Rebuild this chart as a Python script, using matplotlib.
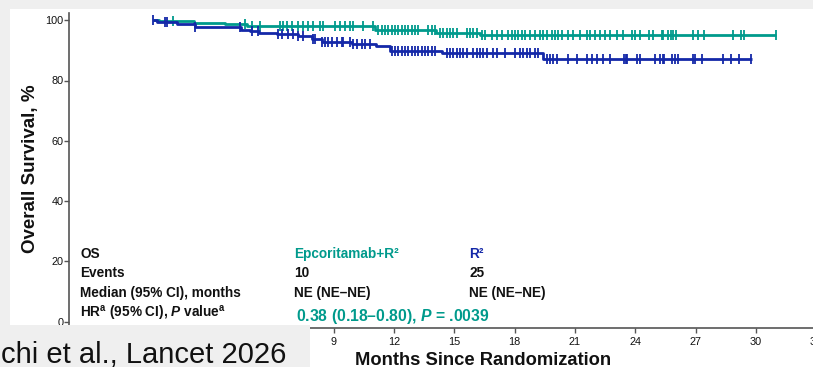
import numpy as np
import matplotlib
matplotlib.use("Agg")
import matplotlib.pyplot as plt
from matplotlib.patches import Rectangle

plt.rcParams['font.family'] = ['Liberation Sans', 'DejaVu Sans']
plt.rcParams['mathtext.fontset'] = 'custom'
plt.rcParams['mathtext.rm'] = 'Liberation Sans:bold'
plt.rcParams['mathtext.it'] = 'Liberation Sans:bold:italic'
plt.rcParams['mathtext.bf'] = 'Liberation Sans:bold'

# ---------------- data ----------------
teal_t = [0, 0.3, 2.05, 3.6, 4.7, 11.05, 14.1, 16.3, 31.0]
teal_s = [100, 99.6, 99.2, 98.7, 98.0, 96.8, 95.8, 95.1, 95.1]
teal_cens = [1.02, 4.59, 4.92, 5.34, 6.33, 6.48, 6.66, 6.91, 7.24, 7.49, 7.74, 7.99,
             8.32, 8.48, 9.06, 9.31, 9.56, 9.81, 9.98, 10.47, 10.97, 11.22, 11.39,
             11.55, 11.72, 11.89, 12.05, 12.21, 12.38, 12.55, 12.71, 12.88, 13.04,
             13.21, 13.71, 13.88, 14.04, 14.29, 14.45, 14.62, 14.79, 14.95, 15.12,
             15.62, 15.78, 15.95, 16.11, 16.36, 16.53, 16.86, 17.11, 17.36, 17.69,
             17.86, 18.02, 18.18, 18.35, 18.52, 18.77, 19.01, 19.26, 19.43, 19.6,
             19.85, 20.01, 20.18, 20.34, 20.67, 20.92, 21.25, 21.59, 21.75, 22.0,
             22.25, 22.5, 22.75, 23.08, 23.38, 23.83, 23.99, 24.24, 24.70, 24.9,
             25.32, 25.4, 25.65, 25.77, 25.9, 26.03, 26.86, 27.14, 27.42, 28.88,
             29.26, 29.43, 30.99]

blue_t = [0, 0.2, 1.2, 2.1, 4.4, 4.85, 5.3, 6.2, 7.2, 7.9, 8.4, 9.9, 11.1, 11.8,
          14.4, 19.4, 29.8]
blue_s = [100, 99.4, 98.6, 97.6, 96.9, 96.3, 95.8, 95.3, 94.8, 93.8, 92.7, 92.0,
          91.3, 89.9, 89.0, 87.1, 87.1]
blue_cens = [0.02, 0.61, 0.69, 2.1, 4.34, 4.92, 5.25, 6.24, 6.41, 6.74, 6.99, 7.24,
             7.49, 7.99, 8.07, 8.40, 8.57, 8.73, 8.90, 9.15, 9.40, 9.48, 9.81, 9.98,
             10.14, 10.39, 10.56, 10.81, 11.89, 12.05, 12.21, 12.38, 12.55, 12.71,
             12.88, 13.04, 13.21, 13.38, 13.54, 13.71, 13.88, 14.04, 14.62, 14.79,
             14.95, 15.12, 15.28, 15.45, 15.62, 15.95, 16.11, 16.28, 16.44, 16.61,
             16.94, 17.11, 17.52, 18.02, 18.27, 18.43, 18.6, 18.77, 19.01, 19.18,
             19.6, 19.76, 19.93, 20.09, 20.67, 21.09, 21.59, 21.84, 22.08, 22.41,
             22.75, 23.44, 23.54, 23.61, 24.07, 24.24, 24.99, 25.24, 25.37, 25.43,
             25.82, 25.98, 26.14, 26.89, 26.97, 27.31, 28.38, 28.75, 29.18, 29.76]

x_ticks = [0, 3, 6, 9, 12, 15, 18, 21, 24, 27, 30, 33]
# labels of 0, 3 and 6 are hidden under the citation box in the reference
x_tick_labels = ["", "", "", "9", "12", "15", "18", "21", "24", "27", "30", "33"]
y_ticks = [0, 20, 40, 60, 80, 100]

row_labels = ["OS", "Events", "Median (95% CI), months"]
col_epc = ["Epcoritamab+R\u00b2", "10", "NE (NE\u2013NE)"]
col_r2 = ["R\u00b2", "25", "NE (NE\u2013NE)"]
hr_label = r"HR$^{\mathrm{a}}$ (95% CI), $\mathit{P}$ value$^{\mathrm{a}}$"
hr_value = "0.38 (0.18\u20130.80), $\\mathit{P}$ = .0039"

TEAL = '#009a8c'
BLUE = '#1428a8'
GREY_BG = '#efefef'

W, H = 813, 367
fig = plt.figure(figsize=(W / 100, H / 100), dpi=100, facecolor=GREY_BG)

# white panel
fig.add_artist(Rectangle((10 / W, 0), 1, (H - 9) / H, transform=fig.transFigure,
                         facecolor='white', edgecolor='none', zorder=-5))

# axes geometry (pixel based)
x0_px, m_px = 152.8, 20.1
y0_px, v_px = 321.7, 3.015
left_px, right_px = 69, 836.2
top_px, bot_px = 12.7, 328
xmin = (left_px - x0_px) / m_px
xmax = (right_px - x0_px) / m_px
ymax = (y0_px - top_px) / v_px
ymin = (y0_px - bot_px) / v_px

ax = fig.add_axes([left_px / W, 1 - bot_px / H, (right_px - left_px) / W,
                   (bot_px - top_px) / H])
ax.set_facecolor('none')
ax.set_xlim(xmin, xmax)
ax.set_ylim(ymin, ymax)


def surv_at(tt, ss, c):
    tt = np.asarray(tt)
    ss = np.asarray(ss)
    idx = np.searchsorted(tt, np.asarray(c), side='right') - 1
    return ss[idx]


for tt, ss, cc, col in [(teal_t, teal_s, teal_cens, TEAL), (blue_t, blue_s, blue_cens, BLUE)]:
    ax.step(tt, ss, where='post', color=col, lw=2.0, solid_capstyle='butt', zorder=3)
    ax.plot(cc, surv_at(tt, ss, cc), ls='none', marker='|', ms=6.5, mew=1.3,
            color=col, zorder=3)

ax.set_xticks(x_ticks)
ax.set_xticklabels(x_tick_labels)
ax.set_yticks(y_ticks)
ax.tick_params(axis='both', labelsize=7.8, length=3.6, width=1, color='#555555',
               labelcolor='#111111')
ax.tick_params(axis='x', pad=3)
ax.tick_params(axis='y', pad=0.5)
for s in ['top', 'right']:
    ax.spines[s].set_visible(False)
for s in ['left', 'bottom']:
    ax.spines[s].set_color('#555555')
    ax.spines[s].set_linewidth(1.2)

# axis labels (placed in figure pixels)
fig.text(30 / W, 1 - 169 / H, "Overall Survival, %", rotation=90, ha='center',
         va='center', fontsize=13.5, fontweight='bold', color='#111111')
fig.text(483 / W, 1 - 365 / H, "Months Since Randomization", ha='center',
         va='baseline', fontsize=13.2, fontweight='bold', color='#111111')

# table of results
row_base = [258.3, 276.7, 297.0]
for i, y in enumerate(row_base):
    fig.text(80 / W, 1 - y / H, row_labels[i], fontsize=9.8, fontweight='bold',
             color='#111111', va='baseline')
    fig.text(294 / W, 1 - y / H, col_epc[i], fontsize=9.8, fontweight='bold',
             color=TEAL if i == 0 else '#111111', va='baseline')
    fig.text(469 / W, 1 - y / H, col_r2[i], fontsize=9.8, fontweight='bold',
             color=BLUE if i == 0 else '#111111', va='baseline')
fig.text(80 / W, 1 - 318 / H, hr_label, fontsize=9.8, fontweight='bold',
         color='#111111', va='baseline')
fig.text(296 / W, 1 - 321 / H, hr_value, fontsize=11.3, fontweight='bold',
         color=TEAL, va='baseline')

# overlay citation box
fig.add_artist(Rectangle((0, 0), 310 / W, (H - 325) / H, transform=fig.transFigure,
                         facecolor=GREY_BG, edgecolor='none', zorder=10))
fig.text(286 / W, 1 - 363 / H, "chi et al., Lancet 2026", ha='right', va='baseline',
         fontsize=21, color='#111111', zorder=11)

fig.savefig("out.png", dpi=100, facecolor=GREY_BG)
